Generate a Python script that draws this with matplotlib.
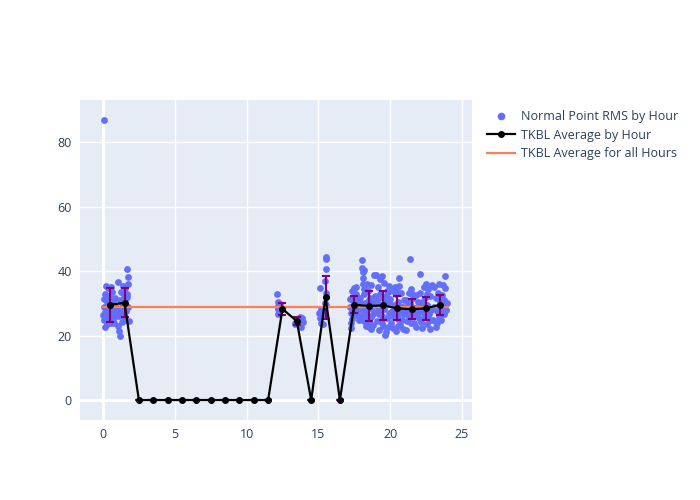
import matplotlib
matplotlib.use("Agg")
import matplotlib.pyplot as plt
from matplotlib.lines import Line2D

plt.rcParams['font.family'] = ['Open Sans', 'DejaVu Sans']

# ---------------- data ----------------
rms_x_h00 = [0.03, 0.05, 0.07, 0.1, 0.12, 0.14, 0.17, 0.2, 0.22, 0.25, 0.27, 0.3, 0.33, 0.35, 0.37, 0.4, 0.42, 0.45,
             0.48, 0.5, 0.53, 0.55, 0.58, 0.6, 0.63, 0.65, 0.68, 0.7, 0.73, 0.75, 0.78, 0.8, 0.84, 0.88, 0.92, 0.05]
rms_y_h00 = [26.5, 29.0, 24.8, 31.5, 27.2, 22.8, 33.0, 28.1, 35.5, 25.6, 30.4, 23.5, 27.8, 34.8, 29.6, 26.0, 32.2, 24.2,
             28.7, 31.0, 27.0, 23.8, 35.2, 29.9, 26.4, 33.5, 28.4, 25.0, 30.8, 27.5, 24.0, 29.2, 31.8, 27.7, 26.2, 87.0]
rms_x_h01 = [1.0, 1.03, 1.06, 1.1, 1.13, 1.16, 1.2, 1.23, 1.26, 1.3, 1.33, 1.36, 1.4, 1.43, 1.46, 1.5, 1.53, 1.56,
             1.6, 1.63, 1.66, 1.7, 1.72, 1.75, 1.78, 1.72, 1.68]
rms_y_h01 = [28.5, 23.0, 36.8, 26.0, 21.5, 31.0, 19.8, 33.5, 27.4, 24.2, 30.2, 35.5, 28.8, 26.2, 32.6, 34.8, 29.4, 25.0,
             31.8, 27.6, 33.0, 40.7, 36.2, 29.0, 24.5, 38.2, 32.0]
rms_x_h12 = [12.15, 12.18, 12.2, 12.22, 12.25, 12.2, 12.28, 12.18, 12.3]
rms_y_h12 = [33.0, 30.5, 29.2, 28.4, 27.5, 26.8, 27.0, 28.8, 29.8]
rms_x_h13 = [13.35, 13.4, 13.5, 13.6, 13.7, 13.75, 13.8, 13.85, 13.9, 13.65, 13.55]
rms_y_h13 = [24.0, 23.5, 25.0, 24.6, 25.8, 23.2, 22.8, 25.4, 24.2, 23.8, 24.8]
rms_x_h15 = [15.05, 15.1, 15.12, 15.15, 15.2, 15.25, 15.3, 15.4, 15.45, 15.5, 15.52, 15.55, 15.5, 15.48, 15.55, 15.52]
rms_y_h15 = [27.0, 34.8, 25.5, 24.0, 28.2, 26.5, 23.5, 27.8, 30.0, 44.3, 43.8, 40.6, 33.2, 37.0, 32.0, 29.5]
rms_x_h17 = [17.2, 17.22, 17.25, 17.3, 17.33, 17.36, 17.4, 17.45, 17.5, 17.55, 17.6, 17.65, 17.7, 17.75, 17.8, 17.85,
             17.9, 17.95, 17.25, 17.5, 17.62, 17.78, 17.88]
rms_y_h17 = [31.5, 29.0, 27.0, 22.5, 25.2, 33.8, 28.2, 30.5, 34.8, 26.5, 29.8, 33.0, 27.6, 31.2, 24.8, 28.8,
             30.2, 26.0, 24.0, 32.0, 35.0, 28.0, 31.8]
rms_x_h18 = [18.02, 18.05, 18.08, 18.1, 18.12, 18.15, 18.18, 18.2, 18.22, 18.25, 18.28, 18.3, 18.35, 18.4, 18.45, 18.5,
             18.55, 18.6, 18.65, 18.7, 18.75, 18.8, 18.85, 18.9, 18.95, 18.12, 18.3, 18.5, 18.7, 18.9, 18.15, 18.4,
             18.6, 18.8]
rms_y_h18 = [43.5, 41.0, 39.8, 38.0, 36.2, 34.5, 40.5, 32.8, 30.0, 27.5, 25.0, 23.0, 29.2, 26.4, 33.8, 31.2,
             24.2, 28.5, 35.6, 22.0, 30.6, 26.8, 38.8, 27.2, 32.4, 28.0, 34.0, 22.8, 25.8, 29.6, 24.5, 36.0,
             31.8, 23.4]
rms_x_h19 = [19.02, 19.05, 19.1, 19.15, 19.2, 19.25, 19.3, 19.35, 19.4, 19.45, 19.5, 19.55, 19.6, 19.65, 19.7, 19.75,
             19.8, 19.85, 19.9, 19.95, 19.12, 19.32, 19.52, 19.72, 19.92, 19.22, 19.42, 19.62, 19.82]
rms_y_h19 = [38.8, 31.0, 24.5, 35.2, 27.8, 21.8, 33.0, 29.5, 26.2, 38.6, 23.0, 36.5, 28.4, 20.2, 32.2, 25.4,
             34.0, 22.6, 30.4, 27.0, 29.0, 37.5, 31.8, 21.2, 35.5, 26.8, 24.0, 30.8, 33.6]
rms_x_h20 = [20.02, 20.08, 20.12, 20.18, 20.22, 20.28, 20.32, 20.38, 20.42, 20.48, 20.52, 20.58, 20.6, 20.62, 20.68,
             20.72, 20.78, 20.82, 20.88, 20.92, 20.98, 20.15, 20.35, 20.55, 20.75, 20.95, 20.45]
rms_y_h20 = [31.5, 24.0, 27.8, 34.0, 22.5, 29.6, 26.2, 32.8, 21.6, 28.2, 25.2, 30.6, 37.8, 35.5, 23.4,
             27.0, 33.2, 24.8, 29.0, 22.2, 31.0, 26.0, 35.0, 23.0, 28.8, 26.6, 33.5]
rms_x_h21 = [21.02, 21.08, 21.12, 21.18, 21.22, 21.28, 21.32, 21.38, 21.4, 21.42, 21.48, 21.52, 21.58, 21.62, 21.68,
             21.72, 21.78, 21.82, 21.88, 21.92, 21.98, 21.25, 21.55, 21.85]
rms_y_h21 = [28.0, 21.8, 31.0, 24.6, 27.2, 33.4, 25.8, 30.0, 43.7, 34.6, 23.8, 29.0, 26.6, 31.8, 24.0,
             28.6, 32.6, 22.6, 27.8, 30.4, 25.4, 29.6, 33.0, 26.2]
rms_x_h22 = [22.02, 22.08, 22.1, 22.15, 22.2, 22.25, 22.3, 22.35, 22.4, 22.45, 22.5, 22.55, 22.6, 22.65, 22.7, 22.75,
             22.8, 22.85, 22.9, 22.95, 22.18, 22.38, 22.58, 22.78]
rms_y_h22 = [27.5, 33.4, 39.0, 24.2, 30.6, 22.4, 28.8, 35.2, 25.8, 31.6, 36.0, 23.6, 29.4, 34.4, 26.6, 32.2,
             22.2, 28.0, 35.8, 25.0, 30.0, 27.0, 33.0, 24.8]
rms_x_h23 = [23.02, 23.08, 23.12, 23.18, 23.22, 23.28, 23.32, 23.38, 23.42, 23.48, 23.52, 23.58, 23.62, 23.68, 23.72,
             23.78, 23.8, 23.85, 23.9, 23.95, 23.25, 23.55, 23.75]
rms_y_h23 = [29.0, 35.0, 24.4, 31.8, 22.6, 27.6, 33.4, 26.0, 36.2, 30.4, 25.0, 32.6, 28.2, 35.6, 26.8,
             31.0, 38.5, 34.8, 28.0, 30.2, 24.0, 29.6, 27.2]

hours = [0.5, 1.5, 2.5, 3.5, 4.5, 5.5, 6.5, 7.5, 8.5, 9.5, 10.5, 11.5,
         12.5, 13.5, 14.5, 15.5, 16.5, 17.5, 18.5, 19.5, 20.5, 21.5, 22.5, 23.5]
hour_avg = [29.6, 30.2, 0, 0, 0, 0, 0, 0, 0, 0, 0, 0,
            28.3, 24.5, 0, 31.9, 0, 29.6, 29.2, 29.4, 28.5, 28.2, 28.5, 29.6]
hour_err = [5.3, 4.45, 0, 0, 0, 0, 0, 0, 0, 0, 0, 0,
            1.85, 1.2, 0, 6.65, 0, 2.7, 4.8, 4.55, 3.75, 3.05, 3.55, 3.05]
overall_avg = 29.0
overall_x = [0.0, 24.0]

xticks = [0, 5, 10, 15, 20, 25]
yticks = [0, 20, 40, 60, 80]

# ---------------- plot ----------------
rms_x = (rms_x_h00 + rms_x_h01 + rms_x_h12 + rms_x_h13 + rms_x_h15 + rms_x_h17 + rms_x_h18 +
         rms_x_h19 + rms_x_h20 + rms_x_h21 + rms_x_h22 + rms_x_h23)
rms_y = (rms_y_h00 + rms_y_h01 + rms_y_h12 + rms_y_h13 + rms_y_h15 + rms_y_h17 + rms_y_h18 +
         rms_y_h19 + rms_y_h20 + rms_y_h21 + rms_y_h22 + rms_y_h23)

text_color = '#2a3f5f'
fig = plt.figure(figsize=(7, 5), dpi=100)
ax = fig.add_axes([80 / 700, 1 - 420 / 500, 392 / 700, 320 / 500])
ax.set_facecolor('#E5ECF6')

ax.scatter(rms_x, rms_y, s=24, color='#636EFA', linewidths=0, zorder=3)
ax.errorbar(hours, hour_avg, yerr=hour_err, fmt='none', ecolor='purple', elinewidth=1.5,
            capsize=3, capthick=1.5, zorder=4)
ax.plot(hours, hour_avg, color='black', linewidth=1.6, marker='o', markersize=4, zorder=5)
ax.plot(overall_x, [overall_avg, overall_avg], color='#FF7F50', linewidth=1.6, zorder=4)

ax.set_xlim(-1.6, 25.7)
ax.set_ylim(-6.2, 93.2)
ax.set_xticks(xticks)
ax.set_yticks(yticks)
ax.grid(True, color='white', linewidth=1)
ax.axhline(0, color='white', linewidth=2, zorder=1)
ax.axvline(0, color='white', linewidth=2, zorder=1)
ax.set_axisbelow(True)
for s in ax.spines.values():
    s.set_visible(False)
ax.tick_params(length=0, labelsize=9, colors=text_color, pad=6)

handles = [
    Line2D([], [], color='#636EFA', marker='o', linestyle='none', markersize=4.5),
    Line2D([], [], color='black', marker='o', linewidth=1.6, markersize=4),
    Line2D([], [], color='#FF7F50', linewidth=1.6),
]
labels = ['Normal Point RMS by Hour', 'TKBL Average by Hour', 'TKBL Average for all Hours']
fig.legend(handles, labels, loc='upper left', bbox_to_anchor=(487 / 700, 1 - 110 / 500),
           frameon=False, fontsize=9, labelcolor=text_color, handlelength=2.2,
           handletextpad=0.5, labelspacing=0.45, borderaxespad=0, borderpad=0)

fig.savefig('out.png', dpi=100)
